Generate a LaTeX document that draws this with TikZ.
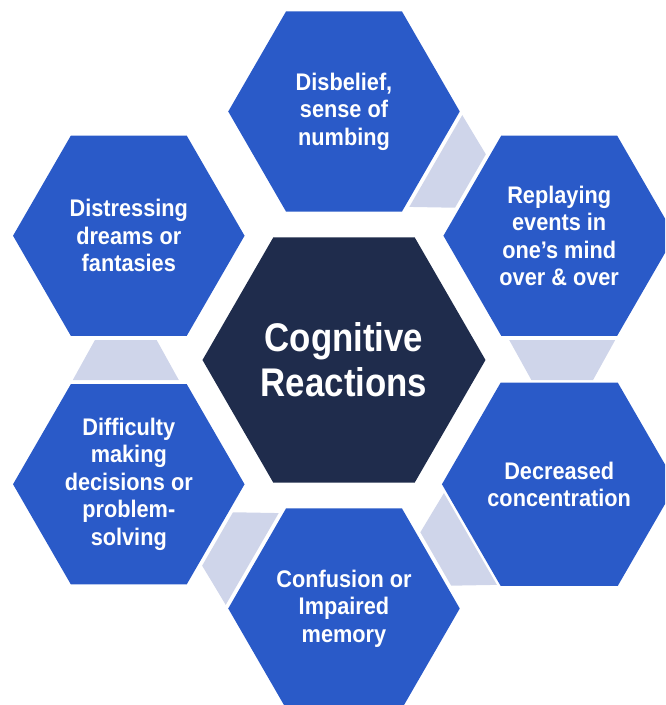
\documentclass[tikz,border=0pt]{standalone}
\usepackage{fontspec}
\newfontfamily\hexfont{Liberation Sans}[FakeStretch=0.87]
\newfontfamily\ringfont{Liberation Sans}[FakeStretch=0.905]
\usetikzlibrary{shapes.geometric,calc}
\definecolor{hexblue}{HTML}{2A5AC8}
\definecolor{hexnavy}{HTML}{1F2C4C}
\definecolor{linkfill}{HTML}{CFD5EA}

\begin{document}
\begin{tikzpicture}[x=1pt,y=1pt,
  hexbase/.style={regular polygon, regular polygon sides=6, inner sep=0pt,
    outer sep=0pt, text=white, align=center},
  outerhex/.style={hexbase, fill=hexblue, minimum size=231.5pt,
    font=\ringfont\bfseries\fontsize{24}{27.5}\selectfont},
  corehex/.style={hexbase, fill=hexnavy, minimum size=283pt,
    font=\hexfont\bfseries\fontsize{40}{45}\selectfont},
  % trapezoid joining two neighbouring hexagons; local x points away from the core
  linkpiece/.pic={\fill[linkfill] (-50,20) -- (56,20) -- (33.85,-20) -- (-27.85,-20) -- cycle;}
]
\useasboundingbox (-344,-345) rectangle (321,360);
\clip (-344,-345) rectangle (321,360);

% central hexagon
\node[corehex] (core) at (0,0) {Cognitive\\Reactions};

% ring of outer hexagons
\node[outerhex] (n1) at (90:248.5)   {Disbelief,\\sense of\\numbing};
\node[outerhex] (n2) at (30:248.5)   {Replaying\\events in\\one’s mind\\over \& over};
\node[outerhex] (n3) at (-30:248.5)  {Decreased\\concentration};
\node[outerhex] (n4) at (-90:248.5)  {Confusion or\\Impaired\\memory};
\node[outerhex] (n5) at (-150:248.5) {Difficulty\\making\\decisions or\\problem-\\solving};
\node[outerhex] (n6) at (150:248.5)  {Distressing\\dreams or\\fantasies};

% links between neighbours
\pic[rotate=60]   at ($(n1)!.5!(n2)$) {linkpiece};
\pic[rotate=0]    at ($(n2)!.5!(n3)$) {linkpiece};
\pic[rotate=-60]  at ($(n3)!.5!(n4)$) {linkpiece};
\pic[rotate=-120] at ($(n4)!.5!(n5)$) {linkpiece};
\pic[rotate=180]  at ($(n5)!.5!(n6)$) {linkpiece};
\end{tikzpicture}
\end{document}
